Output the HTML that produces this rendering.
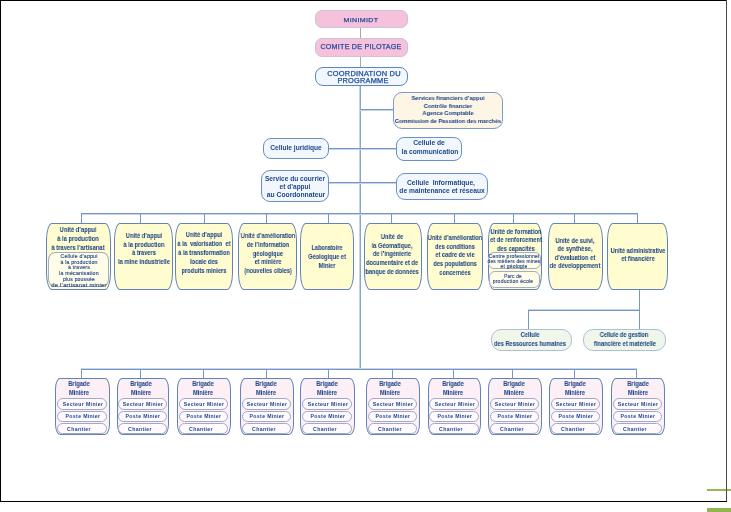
<!DOCTYPE html>
<html><head><meta charset="utf-8"><style>
html,body{margin:0;padding:0;width:731px;height:512px;overflow:hidden;background:#fff;position:relative}
.b{position:absolute;box-sizing:border-box;border-style:solid}
.t{position:absolute;white-space:pre;font-family:"Liberation Sans",sans-serif;text-align:center;width:240px;transform-origin:50% 50%;will-change:transform}
.cond,.reg,.pill{font-weight:bold}
.ext,.caps,.small{font-weight:normal}
.l{position:absolute}
</style></head><body>

<div class="l" style="left:707px;top:489px;width:24px;height:1.5px;background:#97b856"></div>
<div class="l" style="left:707px;top:508px;width:24px;height:4px;background:#92b550"></div>
<div class="l" style="left:0;top:0;width:727px;height:1.45px;background:#000"></div>
<div class="l" style="left:0;top:0;width:1.45px;height:502px;background:#000"></div>
<div class="l" style="left:726px;top:0;width:1px;height:502px;background:#4a4a4a"></div>
<div class="l" style="left:0;top:501px;width:727px;height:1.2px;background:#000"></div>
<div class="l" style="left:360px;top:28px;width:1px;height:10.5px;background:#a8a8a8"></div>
<div class="l" style="left:360px;top:56.5px;width:1px;height:11px;background:#a8a8a8"></div>
<div class="l" style="left:359px;top:85.5px;width:1px;height:284px;background:#c3d4ec"></div>
<div class="l" style="left:360px;top:85.5px;width:1px;height:284px;background:#86a6cd"></div>
<div class="l" style="left:360px;top:110px;width:33.5px;height:1px;background:#c3d4ec"></div>
<div class="l" style="left:360px;top:109px;width:33.5px;height:1px;background:#7896c5"></div>
<div class="l" style="left:328.5px;top:149px;width:67.5px;height:1px;background:#c3d4ec"></div>
<div class="l" style="left:328.5px;top:148px;width:67.5px;height:1px;background:#7896c5"></div>
<div class="l" style="left:328.5px;top:183px;width:67.5px;height:1px;background:#c3d4ec"></div>
<div class="l" style="left:328.5px;top:182px;width:67.5px;height:1px;background:#7896c5"></div>
<div class="l" style="left:80.7px;top:214px;width:557px;height:1px;background:#c3d4ec"></div>
<div class="l" style="left:80.7px;top:213px;width:557px;height:1px;background:#7896c5"></div>
<div class="l" style="left:81px;top:213.6px;width:1px;height:9.9px;background:#7896c5"></div>
<div class="l" style="left:140px;top:213.6px;width:1px;height:9.9px;background:#7896c5"></div>
<div class="l" style="left:204px;top:213.6px;width:1px;height:9.9px;background:#7896c5"></div>
<div class="l" style="left:266px;top:213.6px;width:1px;height:9.9px;background:#7896c5"></div>
<div class="l" style="left:328px;top:213.6px;width:1px;height:9.9px;background:#7896c5"></div>
<div class="l" style="left:391px;top:213.6px;width:1px;height:9.9px;background:#7896c5"></div>
<div class="l" style="left:454px;top:213.6px;width:1px;height:9.9px;background:#7896c5"></div>
<div class="l" style="left:513px;top:213.6px;width:1px;height:9.9px;background:#7896c5"></div>
<div class="l" style="left:574px;top:213.6px;width:1px;height:9.9px;background:#7896c5"></div>
<div class="l" style="left:637px;top:213.6px;width:1px;height:9.9px;background:#7896c5"></div>
<div class="l" style="left:639px;top:289.5px;width:1px;height:39.5px;background:#7896c5"></div>
<div class="l" style="left:527.9px;top:309px;width:111.6px;height:1px;background:#c3d4ec"></div>
<div class="l" style="left:527.9px;top:310px;width:111.6px;height:1px;background:#7896c5"></div>
<div class="l" style="left:528px;top:310.2px;width:1px;height:18.8px;background:#7896c5"></div>
<div class="l" style="left:81.2px;top:368px;width:556.2px;height:1px;background:#c3d4ec"></div>
<div class="l" style="left:81.2px;top:369px;width:556.2px;height:1px;background:#7896c5"></div>
<div class="l" style="left:81px;top:369px;width:1px;height:9.5px;background:#7896c5"></div>
<div class="l" style="left:140px;top:369px;width:1px;height:9.5px;background:#7896c5"></div>
<div class="l" style="left:203px;top:369px;width:1px;height:9.5px;background:#7896c5"></div>
<div class="l" style="left:266px;top:369px;width:1px;height:9.5px;background:#7896c5"></div>
<div class="l" style="left:328px;top:369px;width:1px;height:9.5px;background:#7896c5"></div>
<div class="l" style="left:392px;top:369px;width:1px;height:9.5px;background:#7896c5"></div>
<div class="l" style="left:453px;top:369px;width:1px;height:9.5px;background:#7896c5"></div>
<div class="l" style="left:512px;top:369px;width:1px;height:9.5px;background:#7896c5"></div>
<div class="l" style="left:574px;top:369px;width:1px;height:9.5px;background:#7896c5"></div>
<div class="l" style="left:636px;top:369px;width:1px;height:9.5px;background:#7896c5"></div>
<div class="b" style="left:315px;top:10px;width:92.5px;height:18.2px;background:#f7c1dc;border-color:#c6c3da;border-width:1.2px;border-radius:7px"></div>
<div class="b" style="left:315px;top:38px;width:92.5px;height:18.6px;background:#f7c1dc;border-color:#c6c3da;border-width:1.2px;border-radius:7px"></div>
<div class="b" style="left:314.5px;top:67px;width:93px;height:19.2px;background:#f1f7fd;border-color:#5b86c4;border-width:1.2px;border-radius:8px"></div>
<div class="b" style="left:393px;top:92px;width:110.3px;height:36.6px;background:#fdf5e5;border-color:#7b9ad0;border-width:1.3px;border-radius:9px"></div>
<div class="b" style="left:263px;top:138.1px;width:65.7px;height:20.8px;background:#f1f7fd;border-color:#6a90c8;border-width:1.2px;border-radius:8px"></div>
<div class="b" style="left:395.5px;top:137px;width:66.2px;height:23.7px;background:#f1f7fd;border-color:#6a90c8;border-width:1.2px;border-radius:8px"></div>
<div class="b" style="left:261px;top:170.2px;width:67.5px;height:31.4px;background:#f1f7fd;border-color:#6a90c8;border-width:1.2px;border-radius:9px"></div>
<div class="b" style="left:395.7px;top:173px;width:92.6px;height:26.7px;background:#f1f7fd;border-color:#6a90c8;border-width:1.2px;border-radius:9px"></div>
<div class="b" style="left:45.8px;top:223px;width:65.6px;height:67px;background:#fffcd0;border-color:#6283b8;border-width:1.1px;border-radius:6px / 17px"></div>
<div class="b" style="left:114.4px;top:223px;width:58.4px;height:67px;background:#fffcd0;border-color:#6283b8;border-width:1.1px;border-radius:6px / 17px"></div>
<div class="b" style="left:175.2px;top:223px;width:58.3px;height:67px;background:#fffcd0;border-color:#6283b8;border-width:1.1px;border-radius:6px / 17px"></div>
<div class="b" style="left:238.3px;top:223px;width:59.2px;height:67px;background:#fffcd0;border-color:#6283b8;border-width:1.1px;border-radius:6px / 17px"></div>
<div class="b" style="left:300.1px;top:223px;width:54.4px;height:67px;background:#fffcd0;border-color:#6283b8;border-width:1.1px;border-radius:6px / 17px"></div>
<div class="b" style="left:364px;top:223px;width:57.9px;height:67px;background:#fffcd0;border-color:#6283b8;border-width:1.1px;border-radius:6px / 17px"></div>
<div class="b" style="left:426.5px;top:223px;width:56.7px;height:67px;background:#fffcd0;border-color:#6283b8;border-width:1.1px;border-radius:6px / 17px"></div>
<div class="b" style="left:487.6px;top:223px;width:54.7px;height:67px;background:#fffcd0;border-color:#6283b8;border-width:1.1px;border-radius:6px / 17px"></div>
<div class="b" style="left:548.2px;top:223px;width:55px;height:67px;background:#fffcd0;border-color:#6283b8;border-width:1.1px;border-radius:6px / 17px"></div>
<div class="b" style="left:607px;top:223px;width:61px;height:67px;background:#fffcd0;border-color:#6283b8;border-width:1.1px;border-radius:6px / 17px"></div>
<div class="b" style="left:48.4px;top:252px;width:60.8px;height:35.4px;background:#fffce8;border-color:#a3acc6;border-width:0.9px;border-radius:7px / 8px"></div>
<div class="b" style="left:487.8px;top:252.3px;width:53.6px;height:17.2px;background:#fffce8;border-color:#a3acc6;border-width:0.9px;border-radius:6px / 6px"></div>
<div class="b" style="left:489.3px;top:271px;width:50.7px;height:16.8px;background:#fffce8;border-color:#a3acc6;border-width:0.9px;border-radius:6px / 6px"></div>
<div class="b" style="left:491.3px;top:328.9px;width:80.7px;height:22px;background:#f0f7ea;border-color:#a9c0da;border-width:1.1px;border-radius:10px"></div>
<div class="b" style="left:582.7px;top:328.9px;width:83.8px;height:22px;background:#f0f7ea;border-color:#a9c0da;border-width:1.1px;border-radius:10px"></div>
<div class="b" style="left:55.3px;top:378px;width:54.5px;height:57px;background:#fdeff6;border-color:#6283b8;border-width:1.1px;border-radius:5px / 11px"></div>
<div class="b" style="left:57px;top:398.2px;width:50.2px;height:11.4px;background:#fffafd;border-color:#a0aac8;border-width:0.8px;border-radius:6px"></div>
<div class="b" style="left:57px;top:410.8px;width:50.2px;height:11.1px;background:#fffafd;border-color:#a0aac8;border-width:0.8px;border-radius:6px"></div>
<div class="b" style="left:57px;top:423px;width:50.2px;height:11px;background:#fffafd;border-color:#a0aac8;border-width:0.8px;border-radius:6px"></div>
<div class="b" style="left:116.6px;top:378px;width:52.7px;height:57px;background:#fdeff6;border-color:#6283b8;border-width:1.1px;border-radius:5px / 11px"></div>
<div class="b" style="left:118.3px;top:398.2px;width:48.4px;height:11.4px;background:#fffafd;border-color:#a0aac8;border-width:0.8px;border-radius:6px"></div>
<div class="b" style="left:118.3px;top:410.8px;width:48.4px;height:11.1px;background:#fffafd;border-color:#a0aac8;border-width:0.8px;border-radius:6px"></div>
<div class="b" style="left:118.3px;top:423px;width:48.4px;height:11px;background:#fffafd;border-color:#a0aac8;border-width:0.8px;border-radius:6px"></div>
<div class="b" style="left:177.2px;top:378px;width:53.4px;height:57px;background:#fdeff6;border-color:#6283b8;border-width:1.1px;border-radius:5px / 11px"></div>
<div class="b" style="left:178.9px;top:398.2px;width:49.1px;height:11.4px;background:#fffafd;border-color:#a0aac8;border-width:0.8px;border-radius:6px"></div>
<div class="b" style="left:178.9px;top:410.8px;width:49.1px;height:11.1px;background:#fffafd;border-color:#a0aac8;border-width:0.8px;border-radius:6px"></div>
<div class="b" style="left:178.9px;top:423px;width:49.1px;height:11px;background:#fffafd;border-color:#a0aac8;border-width:0.8px;border-radius:6px"></div>
<div class="b" style="left:240.2px;top:378px;width:53.8px;height:57px;background:#fdeff6;border-color:#6283b8;border-width:1.1px;border-radius:5px / 11px"></div>
<div class="b" style="left:241.9px;top:398.2px;width:49.5px;height:11.4px;background:#fffafd;border-color:#a0aac8;border-width:0.8px;border-radius:6px"></div>
<div class="b" style="left:241.9px;top:410.8px;width:49.5px;height:11.1px;background:#fffafd;border-color:#a0aac8;border-width:0.8px;border-radius:6px"></div>
<div class="b" style="left:241.9px;top:423px;width:49.5px;height:11px;background:#fffafd;border-color:#a0aac8;border-width:0.8px;border-radius:6px"></div>
<div class="b" style="left:300.4px;top:378px;width:54.4px;height:57px;background:#fdeff6;border-color:#6283b8;border-width:1.1px;border-radius:5px / 11px"></div>
<div class="b" style="left:302.1px;top:398.2px;width:50.1px;height:11.4px;background:#fffafd;border-color:#a0aac8;border-width:0.8px;border-radius:6px"></div>
<div class="b" style="left:302.1px;top:410.8px;width:50.1px;height:11.1px;background:#fffafd;border-color:#a0aac8;border-width:0.8px;border-radius:6px"></div>
<div class="b" style="left:302.1px;top:423px;width:50.1px;height:11px;background:#fffafd;border-color:#a0aac8;border-width:0.8px;border-radius:6px"></div>
<div class="b" style="left:366px;top:378px;width:53.8px;height:57px;background:#fdeff6;border-color:#6283b8;border-width:1.1px;border-radius:5px / 11px"></div>
<div class="b" style="left:367.7px;top:398.2px;width:49.5px;height:11.4px;background:#fffafd;border-color:#a0aac8;border-width:0.8px;border-radius:6px"></div>
<div class="b" style="left:367.7px;top:410.8px;width:49.5px;height:11.1px;background:#fffafd;border-color:#a0aac8;border-width:0.8px;border-radius:6px"></div>
<div class="b" style="left:367.7px;top:423px;width:49.5px;height:11px;background:#fffafd;border-color:#a0aac8;border-width:0.8px;border-radius:6px"></div>
<div class="b" style="left:427.5px;top:378px;width:53.9px;height:57px;background:#fdeff6;border-color:#6283b8;border-width:1.1px;border-radius:5px / 11px"></div>
<div class="b" style="left:429.2px;top:398.2px;width:49.6px;height:11.4px;background:#fffafd;border-color:#a0aac8;border-width:0.8px;border-radius:6px"></div>
<div class="b" style="left:429.2px;top:410.8px;width:49.6px;height:11.1px;background:#fffafd;border-color:#a0aac8;border-width:0.8px;border-radius:6px"></div>
<div class="b" style="left:429.2px;top:423px;width:49.6px;height:11px;background:#fffafd;border-color:#a0aac8;border-width:0.8px;border-radius:6px"></div>
<div class="b" style="left:488.2px;top:378px;width:53.7px;height:57px;background:#fdeff6;border-color:#6283b8;border-width:1.1px;border-radius:5px / 11px"></div>
<div class="b" style="left:489.9px;top:398.2px;width:49.4px;height:11.4px;background:#fffafd;border-color:#a0aac8;border-width:0.8px;border-radius:6px"></div>
<div class="b" style="left:489.9px;top:410.8px;width:49.4px;height:11.1px;background:#fffafd;border-color:#a0aac8;border-width:0.8px;border-radius:6px"></div>
<div class="b" style="left:489.9px;top:423px;width:49.4px;height:11px;background:#fffafd;border-color:#a0aac8;border-width:0.8px;border-radius:6px"></div>
<div class="b" style="left:548.8px;top:378px;width:53.9px;height:57px;background:#fdeff6;border-color:#6283b8;border-width:1.1px;border-radius:5px / 11px"></div>
<div class="b" style="left:550.5px;top:398.2px;width:49.6px;height:11.4px;background:#fffafd;border-color:#a0aac8;border-width:0.8px;border-radius:6px"></div>
<div class="b" style="left:550.5px;top:410.8px;width:49.6px;height:11.1px;background:#fffafd;border-color:#a0aac8;border-width:0.8px;border-radius:6px"></div>
<div class="b" style="left:550.5px;top:423px;width:49.6px;height:11px;background:#fffafd;border-color:#a0aac8;border-width:0.8px;border-radius:6px"></div>
<div class="b" style="left:610.9px;top:378px;width:54.1px;height:57px;background:#fdeff6;border-color:#6283b8;border-width:1.1px;border-radius:5px / 11px"></div>
<div class="b" style="left:612.6px;top:398.2px;width:49.8px;height:11.4px;background:#fffafd;border-color:#a0aac8;border-width:0.8px;border-radius:6px"></div>
<div class="b" style="left:612.6px;top:410.8px;width:49.8px;height:11.1px;background:#fffafd;border-color:#a0aac8;border-width:0.8px;border-radius:6px"></div>
<div class="b" style="left:612.6px;top:423px;width:49.8px;height:11px;background:#fffafd;border-color:#a0aac8;border-width:0.8px;border-radius:6px"></div>
<div class="t caps" style="left:241.1px;top:15.59px;font-size:6.2px;line-height:7.44px;color:#24509c;letter-spacing:0.3px;-webkit-text-stroke:0.25px #24509c;transform:scaleX(1.139)">MINIMIDT</div>
<div class="t caps" style="left:240.5px;top:42.88px;font-size:6.9px;line-height:8.28px;color:#24509c;letter-spacing:0.2px;-webkit-text-stroke:0.25px #24509c;transform:scaleX(1.044)">COMITE DE PILOTAGE</div>
<div class="t caps" style="left:243.7px;top:70px;font-size:6.7px;line-height:8.04px;color:#24509c;letter-spacing:0.2px;-webkit-text-stroke:0.25px #24509c;transform:scaleX(1.116)">COORDINATION DU</div>
<div class="t caps" style="left:242.8px;top:77.2px;font-size:6.7px;line-height:8.04px;color:#24509c;letter-spacing:0.2px;-webkit-text-stroke:0.25px #24509c;transform:scaleX(1.104)">PROGRAMME</div>
<div class="t cond" style="left:328.3px;top:93.8px;font-size:6.2px;line-height:7.44px;color:#1d4689;-webkit-text-stroke:0.04px #1d4689;transform:scaleX(0.913)">Services financiers d’appui</div>
<div class="t cond" style="left:328.3px;top:101.5px;font-size:6.2px;line-height:7.44px;color:#1d4689;-webkit-text-stroke:0.04px #1d4689;transform:scaleX(0.913)">Contrôle financier</div>
<div class="t cond" style="left:328.3px;top:109.2px;font-size:6.2px;line-height:7.44px;color:#1d4689;-webkit-text-stroke:0.04px #1d4689;transform:scaleX(0.913)">Agence Comptable</div>
<div class="t cond" style="left:328.3px;top:117px;font-size:6.2px;line-height:7.44px;color:#1d4689;-webkit-text-stroke:0.04px #1d4689;transform:scaleX(0.913)">Commission de Passation des marchés</div>
<div class="t reg" style="left:176.2px;top:144.09px;font-size:6.4px;line-height:7.68px;color:#1d4689;transform:scaleX(1.036)">Cellule juridique</div>
<div class="t reg" style="left:308.6px;top:139.39px;font-size:6.4px;line-height:7.68px;color:#1d4689;transform:scaleX(1.050)">Cellule de</div>
<div class="t reg" style="left:309.7px;top:147.59px;font-size:6.4px;line-height:7.68px;color:#1d4689;transform:scaleX(1.045)">la communication</div>
<div class="t reg" style="left:174.9px;top:175.29px;font-size:6.4px;line-height:7.68px;color:#1d4689;transform:scaleX(1.033)">Service du courrier</div>
<div class="t reg" style="left:175px;top:183.09px;font-size:6.4px;line-height:7.68px;color:#1d4689;transform:scaleX(1.020)">et d’appui</div>
<div class="t reg" style="left:175.5px;top:191.29px;font-size:6.4px;line-height:7.68px;color:#1d4689;transform:scaleX(1.053)">au Coordonnateur</div>
<div class="t reg" style="left:321px;top:178.79px;font-size:6.4px;line-height:7.68px;color:#1d4689;transform:scaleX(1.046)">Cellule  Informatique,</div>
<div class="t reg" style="left:321.7px;top:186.69px;font-size:6.4px;line-height:7.68px;color:#1d4689;transform:scaleX(1.045)">de maintenance et réseaux</div>
<div class="t cond" style="left:-42.3px;top:226.3px;font-size:7px;line-height:8.4px;color:#1d4689;-webkit-text-stroke:0.04px #1d4689;transform:scaleX(0.829)">Unité d’appui</div>
<div class="t cond" style="left:-42.3px;top:235.1px;font-size:7px;line-height:8.4px;color:#1d4689;-webkit-text-stroke:0.04px #1d4689;transform:scaleX(0.829)">à la production</div>
<div class="t cond" style="left:-42.3px;top:243.9px;font-size:7px;line-height:8.4px;color:#1d4689;-webkit-text-stroke:0.04px #1d4689;transform:scaleX(0.829)">à travers l’artisanat</div>
<div class="t small" style="left:-41.5px;top:254.28px;font-size:4.8px;line-height:5.76px;color:#2a4d92;letter-spacing:0.2px;-webkit-text-stroke:0.14px #2a4d92;transform:scaleX(1.074)">Cellule d’appui</div>
<div class="t small" style="left:-41.5px;top:259.78px;font-size:4.8px;line-height:5.76px;color:#2a4d92;letter-spacing:0.2px;-webkit-text-stroke:0.14px #2a4d92;transform:scaleX(1.080)">à la production</div>
<div class="t small" style="left:-41.5px;top:265.38px;font-size:4.8px;line-height:5.76px;color:#2a4d92;letter-spacing:0.2px;-webkit-text-stroke:0.14px #2a4d92;transform:scaleX(1.076)">à travers</div>
<div class="t small" style="left:-41.5px;top:271.38px;font-size:4.8px;line-height:5.76px;color:#2a4d92;letter-spacing:0.2px;-webkit-text-stroke:0.14px #2a4d92;transform:scaleX(1.096)">la mécanisation</div>
<div class="t small" style="left:-41.5px;top:276.78px;font-size:4.8px;line-height:5.76px;color:#2a4d92;letter-spacing:0.2px;-webkit-text-stroke:0.14px #2a4d92;transform:scaleX(1.037)">plus poussée</div>
<div class="t small" style="left:-41.5px;top:282.68px;font-size:4.8px;line-height:5.76px;color:#2a4d92;letter-spacing:0.2px;-webkit-text-stroke:0.14px #2a4d92;transform:scaleX(1.211)">de l’artisanat minier</div>
<div class="t cond" style="left:23.8px;top:232px;font-size:7px;line-height:8.4px;color:#1d4689;-webkit-text-stroke:0.04px #1d4689;transform:scaleX(0.820)">Unité d’appui</div>
<div class="t cond" style="left:23.8px;top:240.7px;font-size:7px;line-height:8.4px;color:#1d4689;-webkit-text-stroke:0.04px #1d4689;transform:scaleX(0.820)">à la production</div>
<div class="t cond" style="left:23.8px;top:249.1px;font-size:7px;line-height:8.4px;color:#1d4689;-webkit-text-stroke:0.04px #1d4689;transform:scaleX(0.820)">à travers</div>
<div class="t cond" style="left:23.8px;top:258px;font-size:7px;line-height:8.4px;color:#1d4689;-webkit-text-stroke:0.04px #1d4689;transform:scaleX(0.820)">la mine industrielle</div>
<div class="t cond" style="left:83.6px;top:231.3px;font-size:7px;line-height:8.4px;color:#1d4689;-webkit-text-stroke:0.04px #1d4689;transform:scaleX(0.820)">Unité d’appui</div>
<div class="t cond" style="left:83.6px;top:240.1px;font-size:7px;line-height:8.4px;color:#1d4689;-webkit-text-stroke:0.04px #1d4689;transform:scaleX(0.820)">à la  valorisation  et</div>
<div class="t cond" style="left:83.6px;top:249.1px;font-size:7px;line-height:8.4px;color:#1d4689;-webkit-text-stroke:0.04px #1d4689;transform:scaleX(0.820)">à la transformation</div>
<div class="t cond" style="left:83.6px;top:257.7px;font-size:7px;line-height:8.4px;color:#1d4689;-webkit-text-stroke:0.04px #1d4689;transform:scaleX(0.820)">locale des</div>
<div class="t cond" style="left:83.6px;top:266.5px;font-size:7px;line-height:8.4px;color:#1d4689;-webkit-text-stroke:0.04px #1d4689;transform:scaleX(0.820)">produits miniers</div>
<div class="t cond" style="left:148px;top:232px;font-size:7px;line-height:8.4px;color:#1d4689;-webkit-text-stroke:0.04px #1d4689;transform:scaleX(0.808)">Unité d’amélioration</div>
<div class="t cond" style="left:148px;top:240.7px;font-size:7px;line-height:8.4px;color:#1d4689;-webkit-text-stroke:0.04px #1d4689;transform:scaleX(0.808)">de l’information</div>
<div class="t cond" style="left:148px;top:249.5px;font-size:7px;line-height:8.4px;color:#1d4689;-webkit-text-stroke:0.04px #1d4689;transform:scaleX(0.808)">géologique</div>
<div class="t cond" style="left:148px;top:258.3px;font-size:7px;line-height:8.4px;color:#1d4689;-webkit-text-stroke:0.04px #1d4689;transform:scaleX(0.808)">et minière</div>
<div class="t cond" style="left:148px;top:266.9px;font-size:7px;line-height:8.4px;color:#1d4689;-webkit-text-stroke:0.04px #1d4689;transform:scaleX(0.808)">(nouvelles cibles)</div>
<div class="t cond" style="left:206.6px;top:244.3px;font-size:6.4px;line-height:7.68px;color:#1d4689;-webkit-text-stroke:0.04px #1d4689;transform:scaleX(0.887)">Laboratoire</div>
<div class="t cond" style="left:206.6px;top:253px;font-size:6.4px;line-height:7.68px;color:#1d4689;-webkit-text-stroke:0.04px #1d4689;transform:scaleX(0.887)">Géologique et</div>
<div class="t cond" style="left:206.6px;top:261.9px;font-size:6.4px;line-height:7.68px;color:#1d4689;-webkit-text-stroke:0.04px #1d4689;transform:scaleX(0.887)">Minier</div>
<div class="t cond" style="left:272.4px;top:232.7px;font-size:7px;line-height:8.4px;color:#1d4689;-webkit-text-stroke:0.04px #1d4689;transform:scaleX(0.810)">Unité de</div>
<div class="t cond" style="left:272.4px;top:241.8px;font-size:7px;line-height:8.4px;color:#1d4689;-webkit-text-stroke:0.04px #1d4689;transform:scaleX(0.810)">la Géomatique,</div>
<div class="t cond" style="left:272.4px;top:250.3px;font-size:7px;line-height:8.4px;color:#1d4689;-webkit-text-stroke:0.04px #1d4689;transform:scaleX(0.810)">de l’ingénierie</div>
<div class="t cond" style="left:272.4px;top:259px;font-size:7px;line-height:8.4px;color:#1d4689;-webkit-text-stroke:0.04px #1d4689;transform:scaleX(0.810)">documentaire et de</div>
<div class="t cond" style="left:272.4px;top:267.8px;font-size:7px;line-height:8.4px;color:#1d4689;-webkit-text-stroke:0.04px #1d4689;transform:scaleX(0.810)">banque de données</div>
<div class="t cond" style="left:335px;top:234.1px;font-size:7px;line-height:8.4px;color:#1d4689;-webkit-text-stroke:0.04px #1d4689;transform:scaleX(0.807)">Unité d’amélioration</div>
<div class="t cond" style="left:335px;top:242.9px;font-size:7px;line-height:8.4px;color:#1d4689;-webkit-text-stroke:0.04px #1d4689;transform:scaleX(0.807)">des conditions</div>
<div class="t cond" style="left:335px;top:251.4px;font-size:7px;line-height:8.4px;color:#1d4689;-webkit-text-stroke:0.04px #1d4689;transform:scaleX(0.807)">et cadre de vie</div>
<div class="t cond" style="left:335px;top:260.1px;font-size:7px;line-height:8.4px;color:#1d4689;-webkit-text-stroke:0.04px #1d4689;transform:scaleX(0.807)">des populations</div>
<div class="t cond" style="left:335px;top:268.8px;font-size:7px;line-height:8.4px;color:#1d4689;-webkit-text-stroke:0.04px #1d4689;transform:scaleX(0.807)">concernées</div>
<div class="t cond" style="left:395.5px;top:227.7px;font-size:7.2px;line-height:8.64px;color:#1d4689;-webkit-text-stroke:0.04px #1d4689;transform:scaleX(0.803)">Unité de formation</div>
<div class="t cond" style="left:395.5px;top:236.1px;font-size:7.2px;line-height:8.64px;color:#1d4689;-webkit-text-stroke:0.04px #1d4689;transform:scaleX(0.803)">et de renforcement</div>
<div class="t cond" style="left:395.5px;top:244.5px;font-size:7.2px;line-height:8.64px;color:#1d4689;-webkit-text-stroke:0.04px #1d4689;transform:scaleX(0.803)">des capacités</div>
<div class="t small" style="left:394.3px;top:253.88px;font-size:4.8px;line-height:5.76px;color:#2a4d92;letter-spacing:0.2px;-webkit-text-stroke:0.14px #2a4d92;transform:scaleX(1.055)">Centre professionnel</div>
<div class="t small" style="left:394.3px;top:259.08px;font-size:4.8px;line-height:5.76px;color:#2a4d92;letter-spacing:0.2px;-webkit-text-stroke:0.14px #2a4d92;transform:scaleX(1.015)">des métiers des mines</div>
<div class="t small" style="left:394.3px;top:264.38px;font-size:4.8px;line-height:5.76px;color:#2a4d92;letter-spacing:0.2px;-webkit-text-stroke:0.14px #2a4d92;transform:scaleX(1.048)">et géologie</div>
<div class="t small" style="left:393px;top:273.98px;font-size:4.8px;line-height:5.76px;color:#2a4d92;letter-spacing:0.2px;-webkit-text-stroke:0.14px #2a4d92;transform:scaleX(0.992)">Parc de</div>
<div class="t small" style="left:393px;top:279.48px;font-size:4.8px;line-height:5.76px;color:#2a4d92;letter-spacing:0.2px;-webkit-text-stroke:0.14px #2a4d92;transform:scaleX(1.060)">production école</div>
<div class="t cond" style="left:454.6px;top:236.9px;font-size:7px;line-height:8.4px;color:#1d4689;-webkit-text-stroke:0.04px #1d4689;transform:scaleX(0.825)">Unité de suivi,</div>
<div class="t cond" style="left:454.6px;top:245.3px;font-size:7px;line-height:8.4px;color:#1d4689;-webkit-text-stroke:0.04px #1d4689;transform:scaleX(0.825)">de synthèse,</div>
<div class="t cond" style="left:454.6px;top:253.8px;font-size:7px;line-height:8.4px;color:#1d4689;-webkit-text-stroke:0.04px #1d4689;transform:scaleX(0.825)">d’évaluation et</div>
<div class="t cond" style="left:454.6px;top:262.2px;font-size:7px;line-height:8.4px;color:#1d4689;-webkit-text-stroke:0.04px #1d4689;transform:scaleX(0.825)">de développement</div>
<div class="t cond" style="left:517.7px;top:246.7px;font-size:7px;line-height:8.4px;color:#1d4689;-webkit-text-stroke:0.04px #1d4689;transform:scaleX(0.816)">Unité administrative</div>
<div class="t cond" style="left:517.7px;top:255.2px;font-size:7px;line-height:8.4px;color:#1d4689;-webkit-text-stroke:0.04px #1d4689;transform:scaleX(0.816)">et financière</div>
<div class="t cond" style="left:409.5px;top:331.3px;font-size:6.4px;line-height:7.68px;color:#1d4689;-webkit-text-stroke:0.04px #1d4689;transform:scaleX(0.906)">Cellule</div>
<div class="t cond" style="left:410.3px;top:340.3px;font-size:6.4px;line-height:7.68px;color:#1d4689;-webkit-text-stroke:0.04px #1d4689;transform:scaleX(0.893)">des Ressources humaines</div>
<div class="t cond" style="left:503.5px;top:331.15px;font-size:6.5px;line-height:7.8px;color:#1d4689;-webkit-text-stroke:0.04px #1d4689;transform:scaleX(0.876)">Cellule de gestion</div>
<div class="t cond" style="left:504.7px;top:340.15px;font-size:6.5px;line-height:7.8px;color:#1d4689;-webkit-text-stroke:0.04px #1d4689;transform:scaleX(0.880)">financière et matérielle</div>
<div class="t cond" style="left:-40.65px;top:380.1px;font-size:7px;line-height:8.4px;color:#1d4689;-webkit-text-stroke:0.04px #1d4689;transform:scaleX(0.821)">Brigade</div>
<div class="t cond" style="left:-40.65px;top:388.5px;font-size:7px;line-height:8.4px;color:#1d4689;-webkit-text-stroke:0.04px #1d4689;transform:scaleX(0.821)">Minière</div>
<div class="t pill" style="left:-37.25px;top:402.28px;font-size:4.5px;line-height:5.4px;color:#1d4689;letter-spacing:0.3px;transform:scaleX(1.151)">Secteur Minier</div>
<div class="t pill" style="left:-37.25px;top:414.48px;font-size:4.5px;line-height:5.4px;color:#1d4689;letter-spacing:0.3px;transform:scaleX(1.148)">Poste Minier</div>
<div class="t pill" style="left:-40.55px;top:426.88px;font-size:4.5px;line-height:5.4px;color:#1d4689;letter-spacing:0.3px;transform:scaleX(1.150)">Chantier</div>
<div class="t cond" style="left:21.35px;top:380.1px;font-size:7px;line-height:8.4px;color:#1d4689;-webkit-text-stroke:0.04px #1d4689;transform:scaleX(0.821)">Brigade</div>
<div class="t cond" style="left:21.35px;top:388.5px;font-size:7px;line-height:8.4px;color:#1d4689;-webkit-text-stroke:0.04px #1d4689;transform:scaleX(0.821)">Minière</div>
<div class="t pill" style="left:23.15px;top:402.28px;font-size:4.5px;line-height:5.4px;color:#1d4689;letter-spacing:0.3px;transform:scaleX(1.151)">Secteur Minier</div>
<div class="t pill" style="left:23.15px;top:414.48px;font-size:4.5px;line-height:5.4px;color:#1d4689;letter-spacing:0.3px;transform:scaleX(1.148)">Poste Minier</div>
<div class="t pill" style="left:19.85px;top:426.88px;font-size:4.5px;line-height:5.4px;color:#1d4689;letter-spacing:0.3px;transform:scaleX(1.150)">Chantier</div>
<div class="t cond" style="left:82.5px;top:380.1px;font-size:7px;line-height:8.4px;color:#1d4689;-webkit-text-stroke:0.04px #1d4689;transform:scaleX(0.821)">Brigade</div>
<div class="t cond" style="left:82.5px;top:388.5px;font-size:7px;line-height:8.4px;color:#1d4689;-webkit-text-stroke:0.04px #1d4689;transform:scaleX(0.821)">Minière</div>
<div class="t pill" style="left:84.1px;top:402.28px;font-size:4.5px;line-height:5.4px;color:#1d4689;letter-spacing:0.3px;transform:scaleX(1.151)">Secteur Minier</div>
<div class="t pill" style="left:84.1px;top:414.48px;font-size:4.5px;line-height:5.4px;color:#1d4689;letter-spacing:0.3px;transform:scaleX(1.148)">Poste Minier</div>
<div class="t pill" style="left:80.8px;top:426.88px;font-size:4.5px;line-height:5.4px;color:#1d4689;letter-spacing:0.3px;transform:scaleX(1.150)">Chantier</div>
<div class="t cond" style="left:145.8px;top:380.1px;font-size:7px;line-height:8.4px;color:#1d4689;-webkit-text-stroke:0.04px #1d4689;transform:scaleX(0.821)">Brigade</div>
<div class="t cond" style="left:145.8px;top:388.5px;font-size:7px;line-height:8.4px;color:#1d4689;-webkit-text-stroke:0.04px #1d4689;transform:scaleX(0.821)">Minière</div>
<div class="t pill" style="left:147.3px;top:402.28px;font-size:4.5px;line-height:5.4px;color:#1d4689;letter-spacing:0.3px;transform:scaleX(1.151)">Secteur Minier</div>
<div class="t pill" style="left:147.3px;top:414.48px;font-size:4.5px;line-height:5.4px;color:#1d4689;letter-spacing:0.3px;transform:scaleX(1.148)">Poste Minier</div>
<div class="t pill" style="left:144px;top:426.88px;font-size:4.5px;line-height:5.4px;color:#1d4689;letter-spacing:0.3px;transform:scaleX(1.150)">Chantier</div>
<div class="t cond" style="left:206.7px;top:380.1px;font-size:7px;line-height:8.4px;color:#1d4689;-webkit-text-stroke:0.04px #1d4689;transform:scaleX(0.821)">Brigade</div>
<div class="t cond" style="left:206.7px;top:388.5px;font-size:7px;line-height:8.4px;color:#1d4689;-webkit-text-stroke:0.04px #1d4689;transform:scaleX(0.821)">Minière</div>
<div class="t pill" style="left:207.8px;top:402.28px;font-size:4.5px;line-height:5.4px;color:#1d4689;letter-spacing:0.3px;transform:scaleX(1.151)">Secteur Minier</div>
<div class="t pill" style="left:207.8px;top:414.48px;font-size:4.5px;line-height:5.4px;color:#1d4689;letter-spacing:0.3px;transform:scaleX(1.148)">Poste Minier</div>
<div class="t pill" style="left:204.5px;top:426.88px;font-size:4.5px;line-height:5.4px;color:#1d4689;letter-spacing:0.3px;transform:scaleX(1.150)">Chantier</div>
<div class="t cond" style="left:270.2px;top:380.1px;font-size:7px;line-height:8.4px;color:#1d4689;-webkit-text-stroke:0.04px #1d4689;transform:scaleX(0.821)">Brigade</div>
<div class="t cond" style="left:270.2px;top:388.5px;font-size:7px;line-height:8.4px;color:#1d4689;-webkit-text-stroke:0.04px #1d4689;transform:scaleX(0.821)">Minière</div>
<div class="t pill" style="left:273.1px;top:402.28px;font-size:4.5px;line-height:5.4px;color:#1d4689;letter-spacing:0.3px;transform:scaleX(1.151)">Secteur Minier</div>
<div class="t pill" style="left:273.1px;top:414.48px;font-size:4.5px;line-height:5.4px;color:#1d4689;letter-spacing:0.3px;transform:scaleX(1.148)">Poste Minier</div>
<div class="t pill" style="left:269.8px;top:426.88px;font-size:4.5px;line-height:5.4px;color:#1d4689;letter-spacing:0.3px;transform:scaleX(1.150)">Chantier</div>
<div class="t cond" style="left:332.95px;top:380.1px;font-size:7px;line-height:8.4px;color:#1d4689;-webkit-text-stroke:0.04px #1d4689;transform:scaleX(0.821)">Brigade</div>
<div class="t cond" style="left:332.95px;top:388.5px;font-size:7px;line-height:8.4px;color:#1d4689;-webkit-text-stroke:0.04px #1d4689;transform:scaleX(0.821)">Minière</div>
<div class="t pill" style="left:334.65px;top:402.28px;font-size:4.5px;line-height:5.4px;color:#1d4689;letter-spacing:0.3px;transform:scaleX(1.151)">Secteur Minier</div>
<div class="t pill" style="left:334.65px;top:414.48px;font-size:4.5px;line-height:5.4px;color:#1d4689;letter-spacing:0.3px;transform:scaleX(1.148)">Poste Minier</div>
<div class="t pill" style="left:331.35px;top:426.88px;font-size:4.5px;line-height:5.4px;color:#1d4689;letter-spacing:0.3px;transform:scaleX(1.150)">Chantier</div>
<div class="t cond" style="left:393.65px;top:380.1px;font-size:7px;line-height:8.4px;color:#1d4689;-webkit-text-stroke:0.04px #1d4689;transform:scaleX(0.821)">Brigade</div>
<div class="t cond" style="left:393.65px;top:388.5px;font-size:7px;line-height:8.4px;color:#1d4689;-webkit-text-stroke:0.04px #1d4689;transform:scaleX(0.821)">Minière</div>
<div class="t pill" style="left:395.25px;top:402.28px;font-size:4.5px;line-height:5.4px;color:#1d4689;letter-spacing:0.3px;transform:scaleX(1.151)">Secteur Minier</div>
<div class="t pill" style="left:395.25px;top:414.48px;font-size:4.5px;line-height:5.4px;color:#1d4689;letter-spacing:0.3px;transform:scaleX(1.148)">Poste Minier</div>
<div class="t pill" style="left:391.95px;top:426.88px;font-size:4.5px;line-height:5.4px;color:#1d4689;letter-spacing:0.3px;transform:scaleX(1.150)">Chantier</div>
<div class="t cond" style="left:454.55px;top:380.1px;font-size:7px;line-height:8.4px;color:#1d4689;-webkit-text-stroke:0.04px #1d4689;transform:scaleX(0.821)">Brigade</div>
<div class="t cond" style="left:454.55px;top:388.5px;font-size:7px;line-height:8.4px;color:#1d4689;-webkit-text-stroke:0.04px #1d4689;transform:scaleX(0.821)">Minière</div>
<div class="t pill" style="left:455.95px;top:402.28px;font-size:4.5px;line-height:5.4px;color:#1d4689;letter-spacing:0.3px;transform:scaleX(1.151)">Secteur Minier</div>
<div class="t pill" style="left:455.95px;top:414.48px;font-size:4.5px;line-height:5.4px;color:#1d4689;letter-spacing:0.3px;transform:scaleX(1.148)">Poste Minier</div>
<div class="t pill" style="left:452.65px;top:426.88px;font-size:4.5px;line-height:5.4px;color:#1d4689;letter-spacing:0.3px;transform:scaleX(1.150)">Chantier</div>
<div class="t cond" style="left:517.55px;top:380.1px;font-size:7px;line-height:8.4px;color:#1d4689;-webkit-text-stroke:0.04px #1d4689;transform:scaleX(0.821)">Brigade</div>
<div class="t cond" style="left:517.55px;top:388.5px;font-size:7px;line-height:8.4px;color:#1d4689;-webkit-text-stroke:0.04px #1d4689;transform:scaleX(0.821)">Minière</div>
<div class="t pill" style="left:518.15px;top:402.28px;font-size:4.5px;line-height:5.4px;color:#1d4689;letter-spacing:0.3px;transform:scaleX(1.151)">Secteur Minier</div>
<div class="t pill" style="left:518.15px;top:414.48px;font-size:4.5px;line-height:5.4px;color:#1d4689;letter-spacing:0.3px;transform:scaleX(1.148)">Poste Minier</div>
<div class="t pill" style="left:514.85px;top:426.88px;font-size:4.5px;line-height:5.4px;color:#1d4689;letter-spacing:0.3px;transform:scaleX(1.150)">Chantier</div>
</body></html>
